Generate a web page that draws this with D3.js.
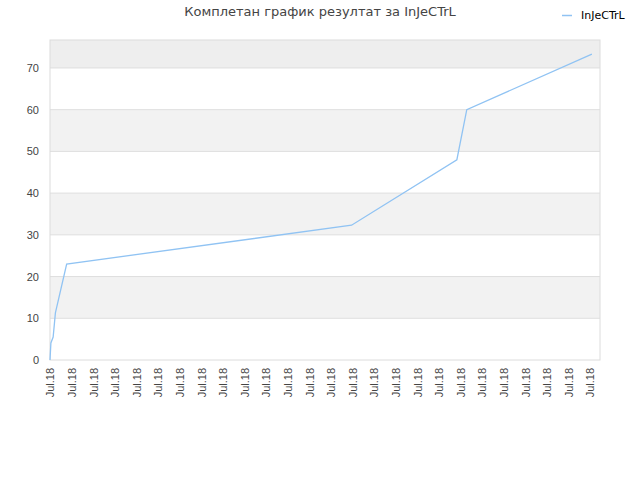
<!DOCTYPE html>
<meta charset="utf-8">
<script src="https://d3js.org/d3.v7.min.js"></script>
<style>
body { margin: 0; background: #fff; }
svg { font-family: "DejaVu Sans", sans-serif; }
.axis text { font-size: 11px; fill: #444; }
.axis path, .axis line { display: none; }
.title { font-size: 13px; fill: #444; }
.legend text { font-size: 11px; fill: #000; }
</style>
<body></body>
<script>
// points of the series (time, score)
var times = [
  "2018-07-01 00:00", "2018-07-01 01:00", "2018-07-01 03:30", "2018-07-01 06:00",
  "2018-07-01 18:30", "2018-07-14 23:00", "2018-07-19 20:00", "2018-07-20 07:00",
  "2018-07-26 02:00"
];
var scores = [0, 4.1, 5.5, 11.3, 23, 32.3, 48, 60, 73.3];
var yTicks = [0, 10, 20, 30, 40, 50, 60, 70];
var seriesName = "InJeCTrL";
var title = "Комплетан график резултат за InJeCTrL";

var parseTime = d3.timeParse("%Y-%m-%d %H:%M");
var data = times.map(function(t, i) { return {date: parseTime(t), value: scores[i]}; });

var margin = {top: 40, right: 40, bottom: 120, left: 50};
var width = 640 - margin.left - margin.right,
    height = 480 - margin.top - margin.bottom;

var root = d3.select("body").append("svg")
    .attr("width", 640)
    .attr("height", 480);

var svg = root.append("g")
    .attr("transform", "translate(" + margin.left + "," + margin.top + ")");

var xScale = d3.scaleTime()
  .domain([parseTime("2018-07-01 00:00"), parseTime("2018-07-26 11:00")])
  .range([0, width]);

var yScale = d3.scaleLinear()
  .domain([0, 76.7])
  .range([height, 0]);

// alternating bands
var bands = yTicks.map(function(v, i) {
  var top = i < yTicks.length - 1 ? yTicks[i + 1] : yScale.domain()[1];
  return {lo: v, hi: top, i: i};
});
svg.selectAll(".band")
  .data(bands).enter().append("rect")
  .attr("class", "band")
  .attr("x", 0)
  .attr("width", width)
  .attr("y", function(d) { return yScale(d.hi); })
  .attr("height", function(d) { return yScale(d.lo) - yScale(d.hi); })
  .style("fill", function(d) {
    if (d.i === yTicks.length - 1) return "#eeeeee";
    return d.i % 2 ? "#f2f2f2" : "#ffffff";
  });

// gridlines
svg.selectAll(".grid")
  .data(yTicks.slice(1)).enter().append("line")
  .attr("x1", 0).attr("x2", width)
  .attr("y1", function(d) { return yScale(d); })
  .attr("y2", function(d) { return yScale(d); })
  .style("stroke", "#dedede");

// border
svg.append("rect")
  .attr("width", width).attr("height", height)
  .style("fill", "none").style("stroke", "#dcdcdc");

var xAxis = d3.axisBottom(xScale)
  .ticks(d3.timeDay.every(1))
  .tickFormat(d3.timeFormat("%b.%y"))
  .tickSize(0);

svg.append("g")
  .attr("class", "x axis")
  .attr("transform", "translate(0," + height + ")")
  .call(xAxis)
  .selectAll("text")
  .attr("transform", "rotate(-90)")
  .attr("x", -8)
  .attr("y", 0)
  .attr("dy", "0.35em")
  .style("text-anchor", "end");

var yAxis = d3.axisLeft(yScale)
  .tickValues(yTicks)
  .tickSize(0)
  .tickPadding(11);

svg.append("g")
  .attr("class", "y axis")
  .call(yAxis);

var line = d3.line()
  .x(function(d) { return xScale(d.date); })
  .y(function(d) { return yScale(d.value); });

svg.append("path")
  .datum(data)
  .attr("d", line)
  .style("fill", "none")
  .style("stroke", "#90c3f3")
  .style("stroke-width", 1.3);

root.append("text")
  .attr("class", "title")
  .attr("x", 320)
  .attr("y", 16)
  .attr("text-anchor", "middle")
  .text(title);

var legend = root.append("g").attr("class", "legend");
legend.append("line")
  .attr("x1", 562).attr("x2", 572)
  .attr("y1", 15.5).attr("y2", 15.5)
  .style("stroke", "#90c3f3").style("stroke-width", 1.5);
legend.append("text")
  .attr("x", 581).attr("y", 19)
  .text(seriesName);
</script>
